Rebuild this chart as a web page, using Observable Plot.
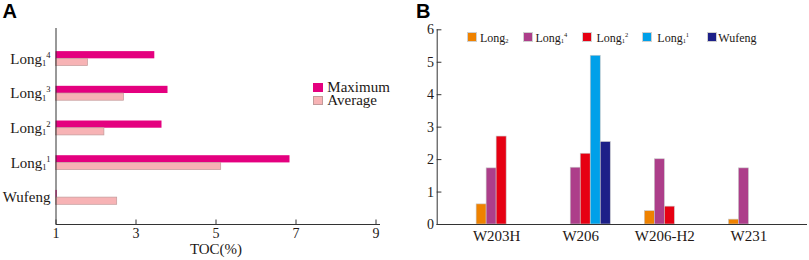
<!DOCTYPE html>
<html><head><meta charset="utf-8">
<script src="https://cdn.jsdelivr.net/npm/d3@7"></script>
<script src="https://cdn.jsdelivr.net/npm/@observablehq/plot@0.6"></script>
<style>
body{margin:0;background:#fff;}
#wrap{position:relative;width:809px;height:260px;overflow:hidden;font-family:"Liberation Serif",serif;color:#231815;}
.panel{position:absolute;top:0;}
.tag{position:absolute;top:0.4px;font:bold 20px "Liberation Sans",Arial,sans-serif;line-height:22px;color:#000;}
.leg{position:absolute;white-space:nowrap;}
.sw{position:absolute;box-sizing:border-box;}
.legA{font-size:15px;line-height:12px;}
.legB{font-size:12px;line-height:12px;}
.sb{font-size:6.5px;position:relative;top:1.3px;}
.sp{font-size:6.5px;position:relative;top:-4.5px;}
</style></head><body>
<div id="wrap">
  <div id="pA" class="panel" style="left:0"></div>
  <div id="pB" class="panel" style="left:400px"></div>
  <div class="tag" style="left:2.5px">A</div>
  <div class="tag" style="left:416px">B</div>
  <div id="legA"></div>
  <div id="legB"></div>
</div>
<script>
// ---------- Panel A data ----------
const layersA = ["Long_1^4", "Long_1^3", "Long_1^2", "Long_1^1", "Wufeng"];
const tocMax = [3.47, 3.80, 3.65, 6.85, 1.03];
const tocAvg = [1.80, 2.70, 2.21, 5.13, 2.53];
const tocTicks = [1, 3, 5, 7, 9];
const legendA = ["Maximum", "Average"];

// ---------- Panel B data ----------
const wells = ["W203H", "W206", "W206-H2", "W231"];
const seriesB = ["Long_2", "Long_1^4", "Long_1^2", "Long_1^1", "Wufeng"];
const valLong2 = [0.62, 0, 0.41, 0.15];
const valLong1_4 = [1.73, 1.75, 2.01, 1.73];
const valLong1_2 = [2.71, 2.18, 0.55, 0];
const valLong1_1 = [0, 5.20, 0, 0];
const valWufeng = [0, 2.54, 0, 0];
const yTicksB = [0, 1, 2, 3, 4, 5, 6];

// ---------- styles ----------
const colorsA = ["#e4007f", "#f7b3b5"];
const colorsB = ["#ef8200", "#ad3e8a", "#e60012", "#00a0e9", "#1d2088"];
const axisColor = "#333";

function parseLabel(s) {
  const m = s.match(/^([A-Za-z]+)(?:_(\w))?(?:\^(\w))?$/);
  return {base: m[1], sub: m[2], sup: m[3]};
}
function labelHTML(s) {
  const p = parseLabel(s);
  return p.base + (p.sub ? `<span class="sb">${p.sub}</span>` : "") + (p.sup ? `<span class="sp">${p.sup}</span>` : "");
}
function toTspans(el, s, small, subDy, supDy) {
  const p = parseLabel(s);
  el.textContent = "";
  const t = d3.select(el);
  t.append("tspan").text(p.base);
  let cur = 0;
  if (p.sub) { t.append("tspan").attr("font-size", small).attr("dy", subDy).text(p.sub); cur = subDy; }
  if (p.sup) { t.append("tspan").attr("font-size", small).attr("dy", supDy - cur).text(p.sup); }
}

// ---------- Panel A ----------
const rowsA = layersA.map((k, i) => ({layer: k, max: tocMax[i], avg: tocAvg[i]}));
const xBase = tocTicks[0];
const plotA = Plot.plot({
  width: 400, height: 260,
  marginLeft: 55.5, marginRight: 24.5, marginTop: 28, marginBottom: 36,
  style: {fontFamily: '"Liberation Serif", serif', fontSize: "15px", color: "#231815", background: "transparent"},
  x: {domain: [tocTicks[0], tocTicks[tocTicks.length - 1]], label: null},
  y: {domain: layersA, paddingInner: 0.585, paddingOuter: 0.617, align: 0.54, label: null, round: false},
  marks: [
    Plot.barX(rowsA, {y: "layer", x1: xBase, x2: "max", fill: colorsA[0], insetBottom: 7.2}),
    Plot.barX(rowsA, {y: "layer", x1: xBase, x2: "avg", fill: colorsA[1], stroke: "#c29a9a", strokeWidth: 0.7, insetTop: 7.2}),
    Plot.ruleX([xBase], {stroke: axisColor}),
    Plot.frame({anchor: "bottom", stroke: axisColor, insetRight: -3.5}),
    Plot.axisX({ticks: tocTicks, tickSize: 0, tickPadding: 3.5, label: null, fontSize: 14}),
    Plot.axisX({ticks: tocTicks, tickSize: -4.5, tickFormat: () => "", label: null, stroke: axisColor}),
    Plot.axisY({tickSize: 0, tickPadding: 5.5, label: null}),
    Plot.text(["TOC(%)"], {text: d => d, frameAnchor: "bottom", lineAnchor: "middle", dy: 24.2, fontSize: 15})
  ]
});
document.getElementById("pA").appendChild(plotA);
d3.select(plotA).selectAll('g[aria-label="y-axis tick label"] text').each(function() {
  toTspans(this, this.textContent, 8.5, 2.4, -6);
});

// legend A
const legAEl = document.getElementById("legA");
const legAPos = [{sx: 313.3, sy: 82.7, sh: 9.6, tx: 327.3, ty: 81.2}, {sx: 313.3, sy: 96, sh: 9.3, tx: 327.3, ty: 93.9}];
legendA.forEach((name, i) => {
  const p = legAPos[i];
  const sw = document.createElement("div");
  sw.className = "sw";
  Object.assign(sw.style, {left: p.sx + "px", top: p.sy + "px", width: "10px", height: p.sh + "px", background: colorsA[i], border: i ? "0.7px solid #c29a9a" : "none"});
  legAEl.appendChild(sw);
  const tx = document.createElement("div");
  tx.className = "leg legA";
  Object.assign(tx.style, {left: p.tx + "px", top: p.ty + "px"});
  tx.textContent = name;
  legAEl.appendChild(tx);
});

// ---------- Panel B ----------
const seriesVals = [valLong2, valLong1_4, valLong1_2, valLong1_1, valWufeng];
const rowsB = [];
seriesB.forEach((s, j) => wells.forEach((w, i) => {
  if (seriesVals[j][i] > 0) rowsB.push({well: w, series: s, value: seriesVals[j][i]});
}));
const widthB = 409, mLB = 36.7, mRB = 2;
const xOpts = {paddingInner: 0.405, paddingOuter: 0.404, align: 0.58};
const bw = d3.scaleBand(wells, [mLB, widthB - mRB]).paddingInner(xOpts.paddingInner).paddingOuter(xOpts.paddingOuter).align(xOpts.align).bandwidth();
const slotW = bw / seriesB.length;
const plotB = Plot.plot({
  width: widthB, height: 260,
  marginLeft: mLB, marginRight: mRB, marginTop: 29.3, marginBottom: 36,
  style: {fontFamily: '"Liberation Serif", serif', fontSize: "15px", color: "#231815", background: "transparent"},
  x: {domain: wells, ...xOpts, round: false, label: null},
  y: {domain: [yTicksB[0], yTicksB[yTicksB.length - 1]], label: null},
  marks: [
    ...seriesB.map((s, j) => Plot.barY(rowsB.filter(r => r.series === s), {
      x: "well", y: "value", fill: colorsB[j], stroke: "#c8c8c8", strokeWidth: 0.6,
      insetLeft: j * slotW, insetRight: (seriesB.length - 1 - j) * slotW
    })),
    Plot.ruleY([0], {stroke: axisColor}),
    Plot.frame({anchor: "left", stroke: axisColor}),
    Plot.axisY({ticks: yTicksB, tickFormat: d3.format("d"), tickSize: 0, tickPadding: 3.3, label: null, fontSize: 14}),
    Plot.axisY({ticks: yTicksB, tickSize: -4.7, tickFormat: () => "", label: null, stroke: axisColor}),
    Plot.axisX({tickSize: 0, tickPadding: 5.4, dx: -5, label: null})
  ]
});
document.getElementById("pB").appendChild(plotB);

// legend B
const legBEl = document.getElementById("legB");
const legBPos = [{sx: 466.7, tx: 480}, {sx: 523.3, tx: 535.5}, {sx: 581.7, tx: 596.5}, {sx: 641.7, tx: 657.3}, {sx: 706.7, tx: 718.3}];
seriesB.forEach((s, j) => {
  const p = legBPos[j];
  const sw = document.createElement("div");
  sw.className = "sw";
  Object.assign(sw.style, {left: p.sx + "px", top: "32.3px", width: "10px", height: "10px", background: colorsB[j], border: "0.5px solid #d0d0d0"});
  legBEl.appendChild(sw);
  const tx = document.createElement("div");
  tx.className = "leg legB";
  Object.assign(tx.style, {left: p.tx + "px", top: "31.6px"});
  tx.innerHTML = labelHTML(s);
  legBEl.appendChild(tx);
});
</script>
</body></html>
